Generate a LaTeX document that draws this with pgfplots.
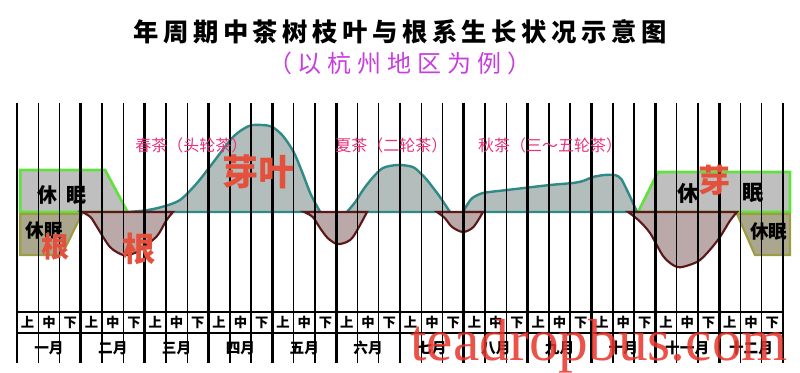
\documentclass[border=0pt]{standalone}
\usepackage{pgfplots}
\pgfplotsset{compat=1.18}
\usepackage{fontspec}
\setmainfont{Liberation Serif}
\newfontfamily\cjk{Noto Sans CJK SC}
\newfontfamily\wm{Liberation Serif}
\definecolor{leafline}{HTML}{2E8A86}
\definecolor{leaffill}{HTML}{B3BDBC}
\definecolor{rootline}{HTML}{5C1818}
\definecolor{rootfill}{HTML}{BBA9A9}
\definecolor{dormgreen}{HTML}{5FE23C}
\definecolor{dormfill}{HTML}{BFBFBF}
\definecolor{oliveline}{HTML}{9C9C40}
\definecolor{olivefill}{HTML}{ABA78F}
\definecolor{pinktxt}{HTML}{E8327C}
\definecolor{redtxt}{HTML}{E4503C}
\definecolor{subpurple}{HTML}{C83CE0}
\definecolor{wmred}{HTML}{E8342A}
\begin{document}
\begin{tikzpicture}
\begin{axis}[
  width=600pt, height=279pt, scale only axis,
  xmin=-0.8, xmax=36.8, ymin=-160, ymax=212,
  hide axis, clip=false,
]
% dormancy boxes (leaves, above baseline)
\addplot[draw=dormgreen, line width=2pt, fill=dormfill] coordinates
  {(0.15,0) (0.15,42) (4.14,42) (5.17,1) (5.17,0)} -- cycle;
\addplot[draw=dormgreen, line width=2pt, fill=dormfill] coordinates
  {(29.19,0) (30.13,40) (36.33,40) (36.33,0)} -- cycle;
% dormancy boxes (roots, below baseline)
\addplot[draw=oliveline, line width=1.6pt, fill=olivefill] coordinates
  {(0.15,-2) (3.05,-2) (2.1,-43) (0.15,-43)} -- cycle;
\addplot[draw=oliveline, line width=1.6pt, fill=olivefill] coordinates
  {(33.84,-2) (34.68,-43) (36.33,-43) (36.33,-2)} -- cycle;
% leaf growth
\addplot[draw=leafline, line width=1.8pt, fill=leaffill, smooth, tension=0.5] coordinates
  {(5.17,0) (6.0,1.5) (6.8,5) (7.66,12) (8.46,29) (9.2,49) (10.15,75) (10.9,86) (11.5,87) (12.0,85) (12.5,76) (13.0,60) (13.4,40) (13.8,18) (14.25,0)} \closedcycle;
\addplot[draw=leafline, line width=1.8pt, fill=leaffill, smooth, tension=0.5] coordinates
  {(15.5,0) (15.9,10) (16.26,22) (16.7,34) (17.2,44) (17.9,47) (18.6,45) (19.0,38) (19.27,32) (19.6,23) (19.88,15) (20.35,0)} \closedcycle;
\addplot[draw=leafline, line width=1.8pt, fill=leaffill, smooth, tension=0.4] coordinates
  {(20.96,0) (21.15,7) (21.4,14) (21.9,19) (23.03,22) (25.05,27) (26.13,29) (26.6,31) (27.07,35) (27.6,37) (28.1,37) (28.4,33) (28.8,16) (29.14,0)} \closedcycle;
% baseline
\addplot[draw=leafline, line width=1.8pt] coordinates {(5.17,0) (29.19,0)};
% root growth
\addplot[draw=rootline, line width=1.6pt, fill=rootfill, smooth, tension=0.5] coordinates
  {(3.05,0) (3.45,-5) (3.76,-15) (4.37,-35) (4.98,-43) (5.4,-42) (5.78,-38) (6.58,-24) (7.0,-9) (7.33,0)} \closedcycle;
\addplot[draw=rootline, line width=1.6pt, fill=rootfill, smooth, tension=0.5] coordinates
  {(13.5,0) (13.9,-5) (14.24,-16) (14.6,-26) (15.04,-32) (15.5,-30) (15.79,-25) (16.15,-12) (16.45,0)} \closedcycle;
\addplot[draw=rootline, line width=1.6pt, fill=rootfill, smooth, tension=0.5] coordinates
  {(19.74,0) (20.1,-6) (20.45,-15) (20.96,-20) (21.45,-15) (21.9,0)} \closedcycle;
\addplot[draw=rootline, line width=1.6pt, fill=rootfill, smooth, tension=0.5] coordinates
  {(28.72,0) (29.2,-8) (29.75,-21) (30.4,-45) (31.02,-55) (31.6,-53) (32.1,-48) (32.6,-37) (33.04,-25) (33.5,-9) (33.84,0)} \closedcycle;
% dekad and month lines
\pgfplotsinvokeforeach{0,...,36}{
  \draw[black, line width=1.1pt] (axis cs:#1,109) -- (axis cs:#1,-151);
}
\pgfplotsinvokeforeach{0,3,...,36}{
  \draw[black, line width=2.2pt] (axis cs:#1,109) -- (axis cs:#1,-151);
}
\draw[black, line width=1.1pt] (axis cs:0,-100) -- (axis cs:36,-100);
\draw[black, line width=1.1pt] (axis cs:0,-121) -- (axis cs:36,-121);
% dekad labels
\pgfplotsinvokeforeach{0,...,11}{
  \node[font=\cjk\bfseries\fontsize{10}{10}\selectfont] at (axis cs:{3*#1+0.5},-110.5) {上};
  \node[font=\cjk\bfseries\fontsize{10}{10}\selectfont] at (axis cs:{3*#1+1.5},-110.5) {中};
  \node[font=\cjk\bfseries\fontsize{10}{10}\selectfont] at (axis cs:{3*#1+2.5},-110.5) {下};
}
% month labels
\begin{scope}[every node/.style={font=\cjk\bfseries\fontsize{11}{11}\selectfont}]
\node at (axis cs:1.5,-136) {一月};
\node at (axis cs:4.5,-136) {二月};
\node at (axis cs:7.5,-136) {三月};
\node at (axis cs:10.5,-136) {四月};
\node at (axis cs:13.5,-136) {五月};
\node at (axis cs:16.5,-136) {六月};
\node at (axis cs:19.5,-136) {七月};
\node at (axis cs:22.5,-136) {八月};
\node at (axis cs:25.5,-136) {九月};
\node at (axis cs:28.5,-136) {十月};
\node at (axis cs:31.5,-136) {十一月};
\node at (axis cs:34.5,-136) {十二月};
\end{scope}
% in-plot labels
\node[font=\cjk\bfseries\fontsize{15}{15}\selectfont] at (axis cs:2.1,17) {休\hspace{7pt}眠};
\node[font=\cjk\bfseries\fontsize{14}{14}\selectfont, inner sep=0pt] at (axis cs:1.27,-18) {休眠};
\node[font=\cjk\bfseries\fontsize{21}{21}\selectfont, text=redtxt] at (axis cs:1.79,-35) {根};
\node[font=\cjk\bfseries\fontsize{25}{25}\selectfont, text=redtxt] at (axis cs:5.73,-37) {根};
\node[font=\cjk\bfseries\fontsize{27}{27}\selectfont, text=redtxt] at (axis cs:11.33,40) {芽叶};
\node[font=\cjk\fontsize{12}{12}\selectfont, text=pinktxt] at (axis cs:8.2,67) {春茶（头轮茶）};
\node[font=\cjk\fontsize{12}{12}\selectfont, text=pinktxt] at (axis cs:17.6,67) {夏茶（二轮茶）};
\node[font=\cjk\fontsize{12}{12}\selectfont, text=pinktxt] at (axis cs:25.05,67) {秋茶（三～五轮茶）};
\node[font=\cjk\bfseries\fontsize{16}{16}\selectfont] at (axis cs:31.53,19) {休};
\node[font=\cjk\bfseries\fontsize{24}{24}\selectfont, text=redtxt] at (axis cs:32.8,32) {芽};
\node[font=\cjk\bfseries\fontsize{16}{16}\selectfont] at (axis cs:34.59,19) {眠};
\node[font=\cjk\bfseries\fontsize{14}{14}\selectfont, inner sep=0pt] at (axis cs:35.34,-19) {休眠};
% title
\node[font=\cjk\bfseries\fontsize{19}{19}\selectfont] at (axis cs:18.0,180.5)
  {年\hspace{3.4pt}周\hspace{3.4pt}期\hspace{3.4pt}中\hspace{3.4pt}茶\hspace{3.4pt}树\hspace{3.4pt}枝\hspace{3.4pt}叶\hspace{3.4pt}与\hspace{3.4pt}根\hspace{3.4pt}系\hspace{3.4pt}生\hspace{3.4pt}长\hspace{3.4pt}状\hspace{3.4pt}况\hspace{3.4pt}示\hspace{3.4pt}意\hspace{3.4pt}图};
\node[font=\cjk\fontsize{18}{18}\selectfont, text=subpurple] at (axis cs:18.0,149)
  {（\hspace{4.5pt}以\hspace{4.5pt}杭\hspace{4.5pt}州\hspace{4.5pt}地\hspace{4.5pt}区\hspace{4.5pt}为\hspace{4.5pt}例\hspace{4.5pt}）};
% watermark
\node[font=\wm\fontsize{44.5}{44.5}\selectfont, text=wmred, opacity=0.85, anchor=base west, inner sep=0pt] at (axis cs:18.48,-148) {teadropbus.com};
\end{axis}
\pgfresetboundingbox
\path[use as bounding box] (current axis.south west) rectangle (current axis.north east);
\end{tikzpicture}
\end{document}
